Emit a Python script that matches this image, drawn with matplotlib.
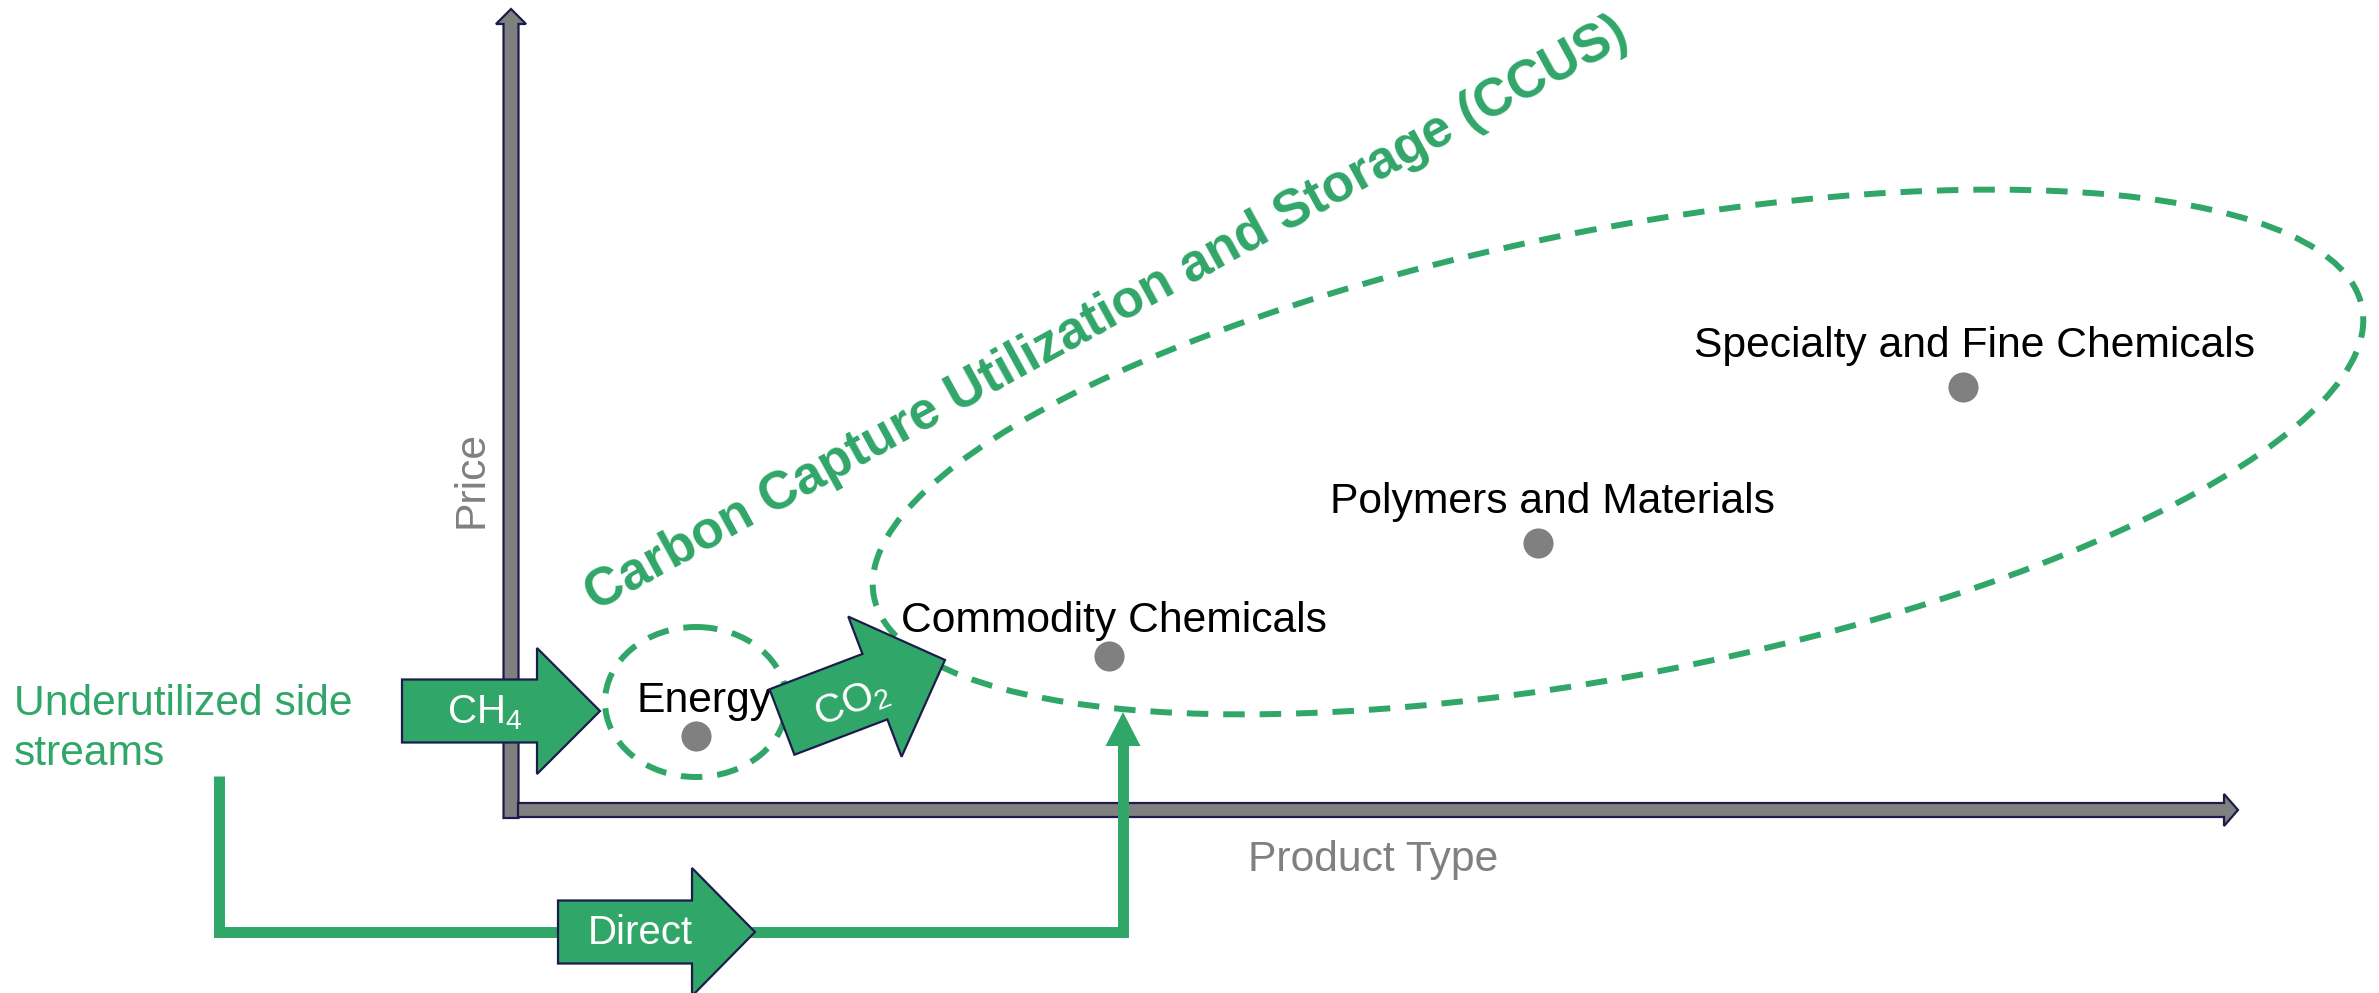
import numpy as np
import matplotlib
matplotlib.use("Agg")
import matplotlib.pyplot as plt
from matplotlib.patches import FancyArrow, Ellipse, Polygon

plt.rcParams['font.family'] = ['Liberation Sans', 'DejaVu Sans']
plt.rcParams['mathtext.fontset'] = 'custom'
plt.rcParams['mathtext.rm'] = 'Liberation Sans'
plt.rcParams['mathtext.it'] = 'Liberation Sans:italic'
plt.rcParams['mathtext.bf'] = 'Liberation Sans:bold'

W, H = 2379, 993
GREEN = '#31a669'
NAVY = '#1c1c4c'
GREY = '#808080'
FS = 30.7

# product types, positions in picture pixels
products = ['Energy', 'Commodity Chemicals', 'Polymers and Materials',
            'Specialty and Fine Chemicals']
dot_x = [696, 1109, 1538, 1963]
dot_y = [736, 656, 543, 387]
label_x = [636, 901, 1330, 1694]
label_y = [712, 632, 513, 357]

# block arrows: text, tail (x,y), tip (x,y), body width, head width, head length
arrow_text = ['CH$_4$', 'CO$_2$', 'Direct']
arrow_tail = [(402, 711), (782, 722), (558, 932)]
arrow_tip = [(600, 711), (945, 660), (755, 932)]
arrow_body = [63, 70, 63]
arrow_head_w = [126, 150, 128]
arrow_head_l = [63, 75, 63]
arrow_text_pos = [(485, 713), (852, 703), (640, 933)]
arrow_text_rot = [0, 21, 0]

# side stream line
stream_x = [219, 219, 1123, 1123]
stream_y = [776, 932, 932, 744]
stream_tip = (1123, 712)

side_lines = ['Underutilized side', 'streams']
side_y = [715, 765]

fig = plt.figure(figsize=(W / 100, H / 100), dpi=100)
ax = fig.add_axes([0, 0, 1, 1])
ax.set_xlim(0, W)
ax.set_ylim(H, 0)
ax.axis('off')

# axes arrows
ax.add_patch(FancyArrow(511, 818, 0, 9 - 818, width=15, head_width=30, head_length=15,
                        length_includes_head=True, fc=GREY, ec=NAVY, lw=1.6, zorder=2))
ax.add_patch(FancyArrow(518, 810, 2238 - 518, 0, width=14, head_width=32, head_length=14,
                        length_includes_head=True, fc=GREY, ec=NAVY, lw=1.6, zorder=2))
ax.text(482, 479, 'Price', rotation=90, rotation_mode='anchor', ha='center', va='baseline',
        fontsize=FS, color=GREY)
ax.text(1373, 871, 'Product Type', ha='center', va='baseline', fontsize=FS, color=GREY)

# dashed groupings
ax.add_patch(Ellipse((1618, 452), 2 * 758, 2 * 223, angle=-11, fill=False, ec=GREEN,
                     lw=4.3, ls=(0, (3.6, 2.5)), zorder=1))
ax.add_patch(Ellipse((696, 702), 2 * 91, 2 * 75, fill=False, ec=GREEN,
                     lw=4.3, ls=(0, (3.6, 2.5)), zorder=1))

ax.text(1107, 314, 'Carbon Capture Utilization and Storage (CCUS)', rotation=28.8,
        rotation_mode='anchor', ha='center', va='center', fontsize=38,
        fontweight='bold', color=GREEN)

# products
ax.scatter(dot_x, dot_y, s=470, color=GREY, linewidths=0, zorder=3)
for name, x, y in zip(products, label_x, label_y):
    ax.text(x, y, name, ha='left', va='baseline', fontsize=FS, color='black', zorder=4)

# side stream path
ax.plot(stream_x, stream_y, color=GREEN, lw=7.9, solid_joinstyle='miter',
        solid_capstyle='butt', zorder=3)
tx, ty = stream_tip
ax.add_patch(Polygon([(tx - 17.5, ty + 34), (tx + 17.5, ty + 34), (tx, ty)],
                     closed=True, fc=GREEN, ec='none', zorder=3))
for line, y in zip(side_lines, side_y):
    ax.text(14, y, line, ha='left', va='baseline', fontsize=FS, color=GREEN)

# block arrows
for i in range(len(arrow_text)):
    (x0, y0), (x1, y1) = arrow_tail[i], arrow_tip[i]
    ax.add_patch(FancyArrow(x0, y0, x1 - x0, y1 - y0, width=arrow_body[i],
                            head_width=arrow_head_w[i], head_length=arrow_head_l[i],
                            length_includes_head=True, fc=GREEN, ec=NAVY, lw=1.6, zorder=5))
    px, py = arrow_text_pos[i]
    ax.text(px, py, arrow_text[i], rotation=arrow_text_rot[i], rotation_mode='anchor',
            ha='center', va='center', fontsize=29, color='white', zorder=6)

fig.savefig('out.png', dpi=100, facecolor='white')
